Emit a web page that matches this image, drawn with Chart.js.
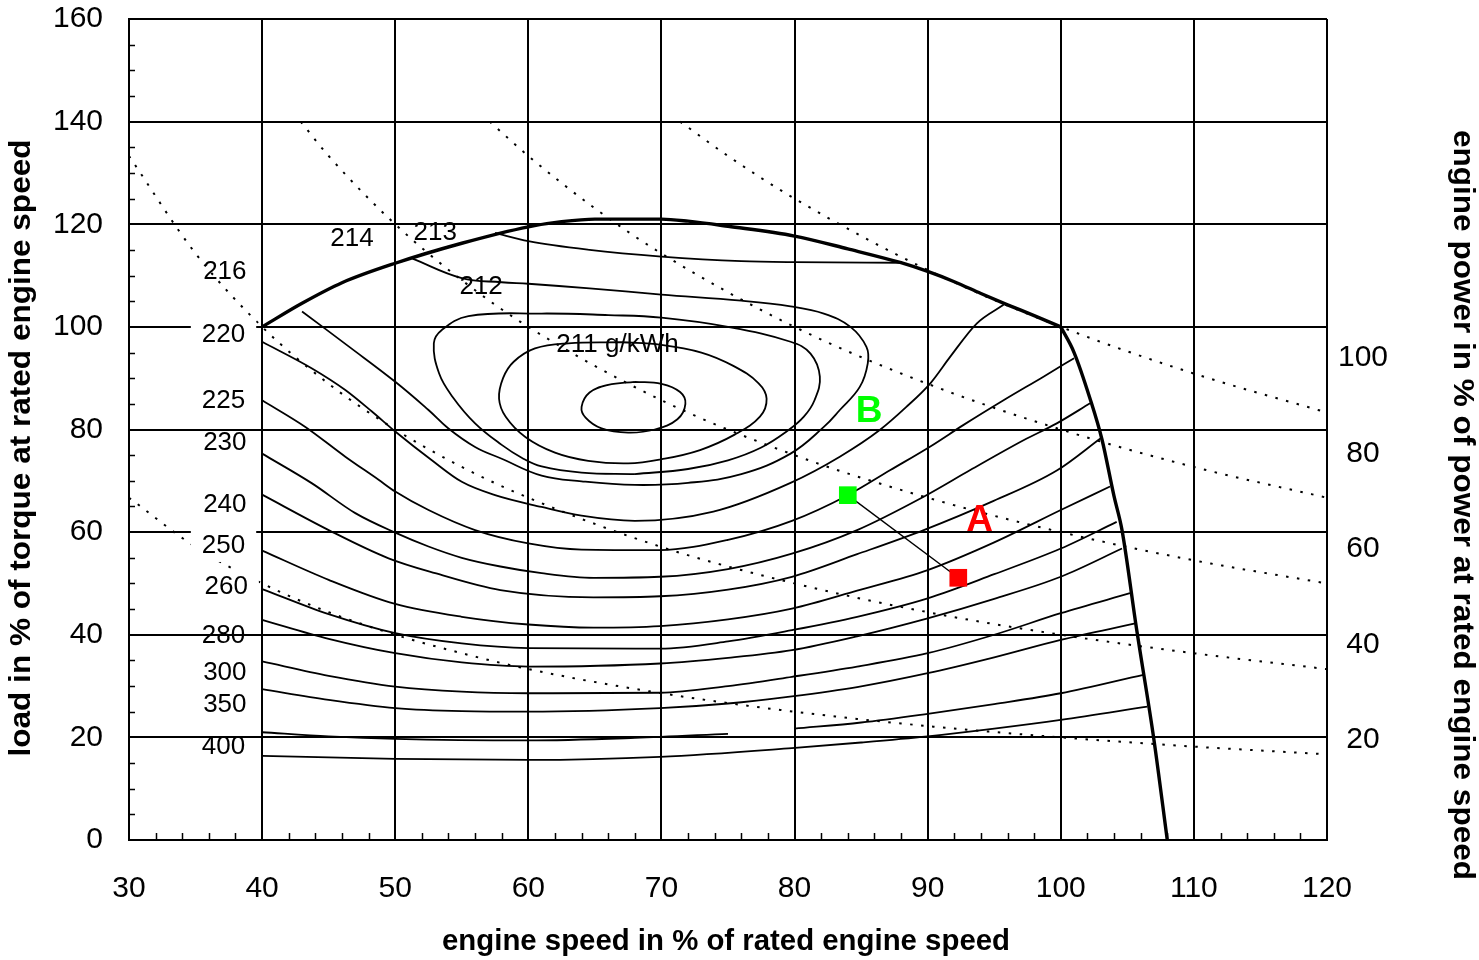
<!DOCTYPE html>
<html lang="en">
<head>
<meta charset="UTF-8" />
<title>Engine map</title>
<script src="https://cdn.jsdelivr.net/npm/chart.js"></script>
<style>
  body { margin: 0; background: #fff; }
  .chart-box { width: 1479px; height: 960px; }
</style>
</head>
<body>
<div class="chart-box"><canvas id="chart_map"></canvas></div>
<script>
// axes
const speedTicks = [30, 40, 50, 60, 70, 80, 90, 100, 110, 120];
const loadTicks = [0, 20, 40, 60, 80, 100, 120, 140, 160];
const powerTicks = [20, 40, 60, 80, 100];

// [speed %, load %] pairs
const fullLoad = [[40, 100], [43, 104.6], [46, 108.6], [50, 112.4], [55, 116.3], [60, 119.5], [62.5, 120.5],
  [65, 121], [70, 121], [72, 120.6], [75, 119.6], [80, 117.7], [84, 115.2], [88, 112.5], [90, 110.8],
  [92, 108.8], [94, 106.5], [96, 104.3], [98, 102.2], [100, 100]];
const fullLoadDrop = [[100, 100], [101, 95], [102.2, 86], [103.1, 78], [104, 67], [104.6, 60.4],
  [105.7, 41], [107, 19.5], [108, 0]];

const c214 = [[57.5, 118.3], [60, 116.7], [64.6, 115], [70, 113.7], [76, 112.8], [80, 112.6], [88, 112.5]];
const c213 = [[51.3, 113.3], [55, 109.5], [58, 108.7], [60, 108.4], [64.6, 107.5], [70, 106.3], [76, 105.1],
  [79.7, 104], [82.2, 102.6], [84.2, 100], [85.4, 96.1], [85.5, 92.9], [84.9, 88.3], [83.4, 83.8],
  [82.2, 80.5], [79.7, 75.3], [76, 71.3], [72, 69.6], [68, 69.2], [64, 69.9], [61, 71], [58, 74.3],
  [56, 76.6], [54, 80.2], [52.5, 83.8], [50, 89.3], [46.5, 96.2], [43, 103]];
const c212 = [[68, 71.3], [64, 71.6], [61, 72.8], [59.5, 74.5], [58, 77], [56, 81.2], [54.3, 86.4], [53.3, 90.9],
  [52.9, 96.8], [53.5, 99.4], [55.5, 102.1], [61, 102.6], [66, 102.3], [70, 101.8], [75, 100], [79.7, 97.1],
  [81.2, 94.8], [81.9, 90.3], [81.5, 85.7], [80.7, 82.5], [79.5, 79.8], [77.5, 76.5], [75, 74], [72, 72.3],
  [68, 71.3]];
const c211 = [[67, 97], [70, 96.5], [73, 95], [75.4, 92.4], [77.3, 89], [77.9, 86], [77.4, 82.5], [75.5, 79],
  [72.9, 76], [70, 74.2], [67.5, 73.4], [64.5, 73.9], [62, 75.5], [59.8, 78.5], [58.3, 82.5], [57.8, 86],
  [58.1, 90], [58.9, 93.2], [60.5, 95.8], [63, 96.8], [67, 97]];
const c210 = [[68, 89.3], [70, 88.9], [71.4, 87.3], [71.8, 85], [71.2, 82], [69.5, 80], [67.5, 79.4],
  [65.5, 80.2], [64.3, 82.3], [64, 84.4], [64.6, 87.2], [66, 88.7], [68, 89.3]];

const c220 = [[40, 97.1], [43.75, 91.9], [46.25, 87.7], [48.25, 83.5], [50, 79.6], [52.75, 74], [55, 69.8],
  [57.5, 67.2], [61, 64.9], [64, 63.2], [68, 62.2], [73.9, 64], [79.7, 69.6], [83.4, 74.7], [86.4, 79.9],
  [88.4, 84.4], [90.2, 89], [91.7, 94.2], [93.7, 100.7], [95.7, 104.3]];
const c225 = [[40, 85.7], [43.25, 80.5], [46.25, 74.7], [48.75, 70.2], [50, 67.9], [52.5, 64.3], [56, 60.4],
  [60, 57.8], [64, 56.6], [69.9, 56.5], [75, 58.5], [79.8, 62.2], [84, 67.2], [87.2, 72.1], [90.2, 76.7],
  [92.7, 80.9], [95.7, 85.7], [98.7, 90.3], [101, 93.9]];
const c230 = [[40, 75.3], [43.75, 69.5], [47, 63.7], [50, 59.9], [52.5, 57.2], [55, 55], [57.9, 53.3], [61, 52],
  [64.9, 51.1], [69.9, 51.3], [75, 52.8], [79.8, 55.8], [84.7, 60.4], [89.7, 66.9], [93.2, 72.1],
  [97.2, 77.9], [99.7, 81.2], [102.2, 85.1]];
const c240 = [[40, 67.3], [45, 60.4], [49.5, 54.9], [53, 52], [57.9, 48.7], [64.9, 47.3], [69.9, 47.5], [75, 48.8],
  [79.8, 51.3], [84.7, 55.7], [89.8, 60.5], [94.7, 65.8], [99.7, 72], [103, 78.3]];
const c250 = [[40, 56.4], [45, 50.7], [50, 46], [55, 43.5], [60, 42], [64.9, 41.4], [69.9, 41.7], [75, 43],
  [79.8, 45.1], [84.7, 48.6], [90, 52.6], [95, 58], [100, 64.3], [103.7, 68.9]];
const c260 = [[40, 48.9], [45, 44], [50, 40.3], [55, 38.3], [60, 37.4], [69.9, 37.3], [75, 38.7], [79.8, 40.9],
  [84.7, 43.5], [90, 47.1], [95, 51.8], [100, 56.8], [104.2, 62]];
const c270 = [[40, 42.9], [45, 39.2], [50, 36.4], [55, 34.6], [60, 33.8], [69.9, 34.4], [75, 35.5], [79.8, 37],
  [84.7, 39.7], [90, 43.2], [95, 47], [100, 51.3], [104.6, 56.8]];
const c280 = [[40, 34.8], [45, 32], [50, 29.9], [55, 28.9], [60, 28.6], [69.9, 28.7], [75, 30], [79.8, 31.8],
  [84.7, 33.8], [90, 36.4], [95, 40], [100, 44.2], [105.2, 48.1]];
const c300 = [[40, 29.4], [45, 27.3], [50, 25.7], [55, 25.1], [60, 25], [69.9, 25.7], [75, 26.6], [79.8, 28],
  [84.7, 29.8], [90, 32.5], [95, 35.6], [100, 39], [105.6, 42.2]];
const c350 = [[80, 21.7], [85, 22.9], [90, 24.6], [95, 26.5], [100, 28.6], [106.2, 32.2]];
const c400a = [[40, 21], [45, 20.2], [50, 19.7], [60, 19.4], [68, 19.9], [75, 20.7]];
const c400b = [[40, 16.4], [50, 15.8], [60, 15.6], [69.9, 16.2], [79.8, 17.9], [85, 19], [90, 20.2], [95, 21.7],
  [100, 23.4], [106.5, 26]];

// lines of constant power (20 ... 100 %)
const power20 = [[30, 66.7], [35, 57.1], [40, 50], [45, 44.4], [50, 40], [55, 36.4], [60, 33.3], [70, 28.6],
  [80, 25], [90, 22.2], [100, 20], [110, 18.2], [120, 16.7]];
const power40 = [[30, 133.3], [35, 114.3], [40, 100], [45, 88.9], [50, 80], [55, 72.7], [60, 66.7], [70, 57.1],
  [80, 50], [90, 44.4], [100, 40], [110, 36.4], [120, 33.3]];
const power60 = [[42.9, 140], [45, 133.3], [50, 120], [55, 109.1], [60, 100], [70, 85.7], [80, 75], [90, 66.7],
  [100, 60], [110, 54.5], [120, 50]];
const power80 = [[57.1, 140], [60, 133.3], [65, 123.1], [70, 114.3], [80, 100], [90, 88.9], [100, 80],
  [110, 72.7], [120, 66.7]];
const power100 = [[71.4, 140], [75, 133.3], [80, 125], [90, 111.1], [100, 100], [110, 90.9], [120, 83.3]];

// operating points B -> A
const opPoints = [[84, 67.2], [92.3, 51.1]];
const opNames = ['B', 'A'];
const opNameSpeed = [85.6, 93.9];
const opNameLoad = [83.5, 62.2];

const contourLabels = ['216', '214', '213', '212', '211 g/kWh', '220', '225', '230', '240', '250', '260', '280', '300', '350', '400'];
const labelSpeed = [37.2, 46.75, 53, 56.45, 66.7, 37.1, 37.1, 37.2, 37.2, 37.1, 37.3, 37.1, 37.2, 37.2, 37.1];
const labelLoad = [110.7, 117.1, 118.3, 107.8, 96.5, 98.4, 85.6, 77.4, 65.3, 57.3, 49.3, 39.8, 32.5, 26.3, 18.1];
const maskedLabels = ['220', '250', '260'];

const FONT = '"Liberation Sans", Arial, Helvetica, sans-serif';

function toXY(points) {
  return points.map(([x, y]) => ({ x: x, y: y }));
}

function curve(points, extra) {
  return Object.assign({
    data: toXY(points),
    showLine: true,
    borderColor: '#000',
    borderWidth: 1.8,
    pointRadius: 0,
    fill: false,
    cubicInterpolationMode: 'monotone',
  }, extra);
}

function ring(points) {
  return curve(points, { cubicInterpolationMode: 'default', tension: 0.4 });
}

function dotted(points) {
  return curve(points, { borderWidth: 2, borderDash: [2.5, 8.5] });
}

const datasets = [
  {
    data: toXY(opPoints),
    showLine: true,
    borderColor: '#000',
    borderWidth: 1.4,
    pointStyle: 'rect',
    pointRadius: 12.5,
    pointBorderWidth: 0,
    pointBackgroundColor: ['#00ff00', '#ff0000'],
    order: -1,
  },
  curve(fullLoad, { borderWidth: 3.4 }),
  curve(fullLoadDrop, { borderWidth: 3.4 }),
  curve(c214), ring(c213), ring(c212), ring(c211), ring(c210),
  curve(c220), curve(c225), curve(c230), curve(c240), curve(c250), curve(c260),
  curve(c270), curve(c280), curve(c300), curve(c350), curve(c400a), curve(c400b),
  dotted(power20), dotted(power40), dotted(power60), dotted(power80), dotted(power100),
];

// small inward ticks on the bottom and left frame
const minorTicks = {
  id: 'minorTicks',
  afterDraw(chart) {
    const { ctx, scales: { x, y } } = chart;
    ctx.save();
    ctx.strokeStyle = '#000';
    ctx.lineWidth = 1.5;
    ctx.beginPath();
    for (let v = 32; v < 120; v += 2) {
      if (v % 10 === 0) continue;
      const px = Math.round(x.getPixelForValue(v)) + 0.5;
      ctx.moveTo(px, y.bottom);
      ctx.lineTo(px, y.bottom - 7);
    }
    for (let v = 5; v < 160; v += 5) {
      if (v % 20 === 0) continue;
      const py = Math.round(y.getPixelForValue(v)) + 0.5;
      ctx.moveTo(x.left, py);
      ctx.lineTo(x.left + 6, py);
    }
    ctx.stroke();
    ctx.restore();
  },
};

// draws a bold title stretched to a given length
function axisTitle(ctx, text, cx, cy, angle, length) {
  ctx.save();
  ctx.fillStyle = '#000';
  ctx.textAlign = 'center';
  ctx.textBaseline = 'middle';
  ctx.font = 'bold 29px ' + FONT;
  const w = ctx.measureText(text).width;
  ctx.translate(cx, cy);
  ctx.rotate(angle);
  ctx.scale(length / w, 1);
  ctx.fillText(text, 0, 0);
  ctx.restore();
}

// contour values, point names and axis titles
const mapLabels = {
  id: 'mapLabels',
  afterDatasetsDraw(chart) {
    const { ctx, scales: { x, y } } = chart;
    ctx.save();
    ctx.textAlign = 'center';
    ctx.textBaseline = 'middle';
    ctx.font = '26px ' + FONT;
    contourLabels.forEach((txt, i) => {
      const px = x.getPixelForValue(labelSpeed[i]);
      const py = y.getPixelForValue(labelLoad[i]);
      if (maskedLabels.includes(txt)) {
        const w = ctx.measureText(txt).width;
        ctx.fillStyle = '#fff';
        ctx.fillRect(px - w / 2 - 11, py - 17, w + 22, 33);
      }
      ctx.fillStyle = '#000';
      ctx.fillText(txt, px, py);
    });

    ctx.font = 'bold 37px ' + FONT;
    opNames.forEach((txt, i) => {
      ctx.fillStyle = i === 0 ? '#00ff00' : '#ff0000';
      ctx.fillText(txt, x.getPixelForValue(opNameSpeed[i]), y.getPixelForValue(opNameLoad[i]));
    });
    ctx.restore();
  },
  afterDraw(chart) {
    const { ctx } = chart;
    axisTitle(ctx, 'engine speed in % of rated engine speed', 726, 942, 0, 568);
    axisTitle(ctx, 'load in % of torque at rated engine speed', 22, 448, -Math.PI / 2, 617);
    axisTitle(ctx, 'engine power in % of power at rated engine speed', 1462, 505, Math.PI / 2, 750);
  },
};

const tickFont = { family: FONT, size: 30 };

new Chart(document.getElementById('chart_map'), {
  type: 'scatter',
  data: { datasets: datasets },
  options: {
    responsive: true,
    maintainAspectRatio: false,
    animation: false,
    layout: { padding: { top: 19, left: 0, right: 0, bottom: 0 } },
    plugins: { legend: { display: false }, tooltip: { enabled: false } },
    scales: {
      x: {
        type: 'linear',
        min: 30,
        max: 120,
        afterBuildTicks: (scale) => { scale.ticks = speedTicks.map((v) => ({ value: v })); },
        afterFit: (scale) => { scale.height = 120; scale.paddingLeft = 0; scale.paddingRight = 0; },
        grid: { color: '#000', lineWidth: 2, drawTicks: false },
        border: { display: true, color: '#000', width: 2 },
        ticks: { color: '#000', font: tickFont, padding: 31, autoSkip: false, maxRotation: 0 },
      },
      y: {
        type: 'linear',
        position: 'left',
        min: 0,
        max: 160,
        afterBuildTicks: (scale) => { scale.ticks = loadTicks.map((v) => ({ value: v })); },
        afterFit: (scale) => { scale.width = 129; scale.paddingTop = 0; scale.paddingBottom = 0; },
        grid: { color: '#000', lineWidth: 2, drawTicks: false },
        border: { display: true, color: '#000', width: 2 },
        ticks: { color: '#000', font: tickFont, padding: 26, autoSkip: false },
      },
      y1: {
        type: 'linear',
        position: 'right',
        min: -1,
        max: 171,
        afterBuildTicks: (scale) => { scale.ticks = powerTicks.map((v) => ({ value: v })); },
        afterFit: (scale) => { scale.width = 152; scale.paddingTop = 0; scale.paddingBottom = 0; },
        grid: { display: false, drawTicks: false },
        border: { display: false },
        ticks: { color: '#000', font: tickFont, padding: 11, crossAlign: 'center', autoSkip: false },
      },
    },
  },
  plugins: [minorTicks, mapLabels],
});
</script>
</body>
</html>
